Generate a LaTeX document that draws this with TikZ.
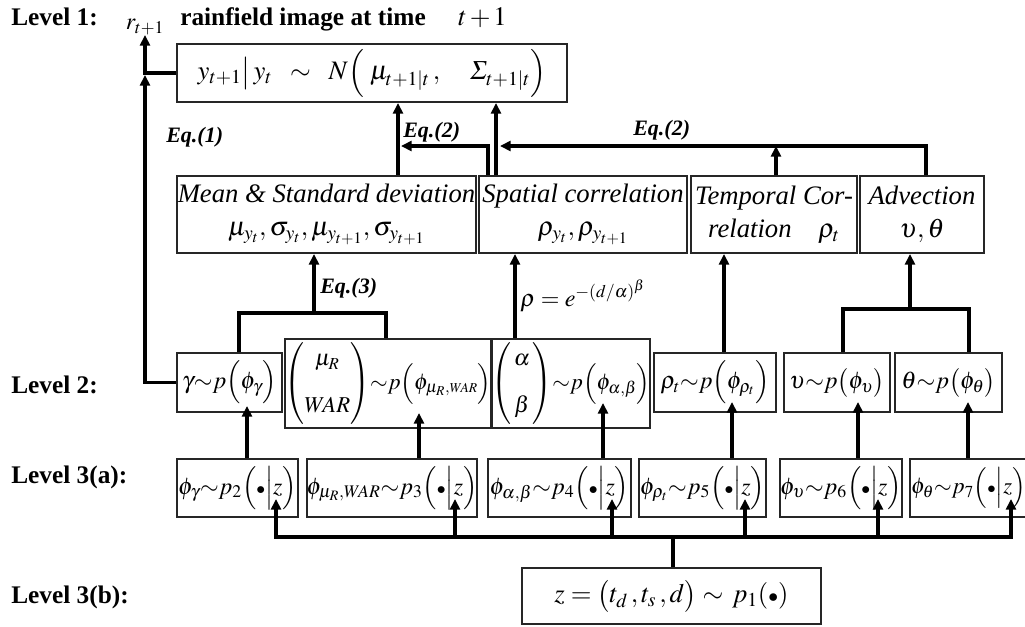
\documentclass[tikz,border=0pt]{standalone}
\usepackage{amsmath}
\usepackage[slantedGreek]{mathptmx}
\usepackage{fontspec}
\setmainfont{Liberation Serif}
\usetikzlibrary{arrows.meta}
\tikzset{
  box/.style={draw=black!85, line width=1.5pt, inner sep=0pt, align=center, anchor=center,
              font=\fontsize{20}{25}\selectfont},
  mbox/.style={box, font=\fontsize{18}{22}\selectfont},
  sbox/.style={box, font=\fontsize{17}{21}\selectfont},
  conn/.style={line width=2.5pt, black},
  arr/.style={conn, -{Triangle[length=8pt,width=7.5pt]}},
  lvl/.style={font=\fontsize{19}{22}\selectfont\bfseries, anchor=base west, inner sep=0pt},
  eqlab/.style={font=\fontsize{16.5}{18}\selectfont\bfseries\itshape, anchor=base west, inner sep=0pt},
}
\newcommand\bx[7][box]{\node[#1, minimum width={(#5-#3)*0.75pt}, minimum height={(#6-#4)*0.75pt}] (#2) at ({(#3+#5)/2},{(#4+#6)/2}) {#7};}
\newcommand\sbul{{\scriptstyle\bullet}}
\begin{document}
\begin{tikzpicture}[x=0.75pt,y=-0.75pt]
\useasboundingbox (0,0) rectangle (1025,626);

% level labels
\node[lvl] (L1) at (11,25) {Level 1:};
\node[lvl] (L2) at (11,393) {Level 2:};
\node[lvl] (L3a) at (11,483) {Level 3(a):};
\node[lvl] (L3b) at (11,603) {Level 3(b):};

% level 1 line
\node[inner sep=0pt, anchor=south, font=\fontsize{18}{20}\selectfont] (r) at (145,35) {$r_{t+1}$};
\node[anchor=base west, inner sep=0pt, font=\fontsize{19}{22}\selectfont\bfseries] (rf) at (180,25) {rainfield image at time};
\node[anchor=base west, inner sep=0pt, font=\fontsize{20}{24}\selectfont] (tp) at (458,25) {$t\,{+}\,1$};

% top box
\bx{N}{177}{44}{567}{102}{\fontsize{20}{24}\selectfont$y_{t+1}\big|\,y_t\;\;\sim\;\;N\Bigl(\;\mu_{t+1|t}\,,\quad\Sigma_{t+1|t}\Bigr)$}

% intermediate boxes
\bx{mean}{177}{176}{476}{253}{{\itshape Mean \& Standard deviation}\\ $\mu_{y_t},\sigma_{y_t},\mu_{y_{t+1}},\sigma_{y_{t+1}}$}
\bx{spat}{479}{176}{687}{253}{{\itshape Spatial correlation}\\ $\rho_{y_t},\rho_{y_{t+1}}$}
\bx{temp}{691}{176}{857}{253}{{\itshape Temporal Cor-}\\ {\itshape relation}\quad$\rho_t$}
\bx{adv}{860}{176}{984}{253}{{\itshape Advection}\\ $\upsilon,\theta$}

% level 2 boxes
\bx[mbox]{gam}{177}{353}{282}{412}{$\gamma{\sim}p\Bigl(\phi_\gamma\Bigr)$}
\bx[sbox]{muw}{287}{339}{489}{428}{$\left(\begin{array}{@{}c@{}}\mu_R\\[14pt] W\!AR\end{array}\right)\!{\sim}p\Bigl(\phi_{\mu_R,\scriptscriptstyle W\!AR}\Bigr)$}
\bx[sbox]{ab}{495}{339}{647}{428}{$\left(\begin{array}{@{\,}c@{\,}}\alpha\\[14pt]\beta\end{array}\right)\!{\sim}p\Bigl(\phi_{\alpha,\beta}\Bigr)$}
\bx[mbox]{rho}{654}{353}{776}{412}{$\rho_t{\sim}p\Bigl(\phi_{\rho_t}\Bigr)$}
\bx[mbox]{ups}{784}{353}{890}{412}{$\upsilon{\sim}p\bigl(\phi_\upsilon\bigr)$}
\bx[mbox]{th}{895}{353}{1002}{412}{$\theta{\sim}p\bigl(\phi_\theta\bigr)$}

% level 3a boxes
\bx[mbox]{pg}{177}{459}{298}{517}{$\phi_\gamma{\sim}p_2\Bigl(\sbul\Big|z\Bigr)$}
\bx[mbox]{pm}{307}{459}{477}{517}{$\phi_{\mu_R,W\!AR}{\sim}p_3\Bigl(\sbul\Big|z\Bigr)$}
\bx[mbox]{pab}{488}{459}{631}{517}{$\phi_{\alpha,\beta}{\sim}p_4\Bigl(\sbul\Big|z\Bigr)$}
\bx[mbox]{pr}{639}{459}{766}{517}{$\phi_{\rho_t}{\sim}p_5\Bigl(\sbul\Big|z\Bigr)$}
\bx[mbox]{pu}{780}{459}{902}{517}{$\phi_\upsilon{\sim}p_6\Bigl(\sbul\Big|z\Bigr)$}
\bx[sbox]{pt}{910}{459}{1032}{517}{$\phi_\theta{\sim}p_7\Bigl(\sbul\Big|z\Bigr)$\hspace{4pt}}

% level 3b box
\bx{z}{522}{568}{821}{624}{$z=\bigl(t_d\,,t_s\,,d\bigr)\sim\,p_1(\sbul)$}

% labels
\node[eqlab] (eq1) at (166,142) {Eq.(1)};
\node[eqlab] (eq2a) at (403,137) {Eq.(2)};
\node[eqlab] (eq2b) at (633,135) {Eq.(2)};
\node[eqlab] (eq3) at (320,293) {Eq.(3)};
\node[anchor=base west, inner sep=0pt, font=\fontsize{18}{22}\selectfont] (rhoeq) at (520,306) {$\rho=e^{-(d/\alpha)^\beta}$};

% helper coordinates
\coordinate (J1) at (145,75);
\coordinate (xmu) at (398,0);
\coordinate (xsg) at (496,0);
\coordinate (xs2) at (488,0);
\coordinate (e2a) at (401,146);
\coordinate (e2b) at (500,146);
\coordinate (xadv) at (926,0);
\coordinate (xtmp) at (776,0);
\coordinate (J3) at (314,313);
\coordinate (xg3) at (239,0);
\coordinate (xm3) at (386,0);
\coordinate (xsp) at (515,0);
\coordinate (xtp2) at (724,0);
\coordinate (J4) at (910,309);
\coordinate (xu) at (843,0);
\coordinate (xt) at (969,0);
\coordinate (a1) at (247,406);
\coordinate (a2) at (419,413);
\coordinate (a3) at (603,403);
\coordinate (a4) at (732,402);
\coordinate (a5) at (858,402);
\coordinate (a6) at (968,402);
\coordinate (H) at (673,537);
\coordinate (b1) at (276,499);
\coordinate (b2) at (455,499);
\coordinate (b3) at (612,499);
\coordinate (b4) at (745,499);
\coordinate (b5) at (878,499);
\coordinate (b6) at (1011,499);

% level 1 connectors
\draw[arr] (N.west) -| (r.south);
\draw[arr] (gam.west) -| (J1);
\draw[arr] (mean.north -| xmu) -- (N.south -| xmu);
\draw[arr] (spat.north -| xsg) -- (N.south -| xsg);
\draw[arr] (spat.north -| xs2) |- (e2a);
\draw[arr] (adv.north -| xadv) |- (e2b);
\draw[arr] (temp.north -| xtmp) -- (xtmp |- e2b);

% level 2 to intermediate
\draw[arr] (J3) -- (mean.south -| J3);
\draw[conn] (gam.north -| xg3) |- (J3) -| (muw.north -| xm3);
\draw[arr] (ab.north -| xsp) -- (spat.south -| xsp);
\draw[arr] (rho.north -| xtp2) -- (temp.south -| xtp2);
\draw[arr] (J4) -- (adv.south -| J4);
\draw[conn] (ups.north -| xu) |- (J4) -| (th.north -| xt);

% level 3a to level 2
\draw[arr] (pg.north -| a1) -- (a1);
\draw[arr] (pm.north -| a2) -- (a2);
\draw[arr] (pab.north -| a3) -- (a3);
\draw[arr] (pr.north -| a4) -- (a4);
\draw[arr] (pu.north -| a5) -- (a5);
\draw[arr] (pt.north -| a6) -- (a6);

% level 3b to level 3a
\draw[conn] (z.north -| H) -- (H);
\draw[arr] (H) -| (b1);
\draw[arr] (H) -| (b6);
\draw[arr] (H -| b2) -- (b2);
\draw[arr] (H -| b3) -- (b3);
\draw[arr] (H -| b4) -- (b4);
\draw[arr] (H -| b5) -- (b5);
\end{tikzpicture}
\end{document}
